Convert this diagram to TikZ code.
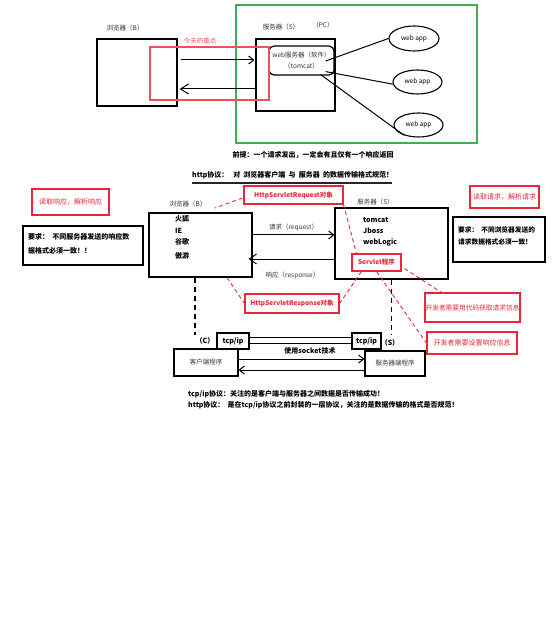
\documentclass[tikz,border=0pt]{standalone}
\usepackage{fontspec}
\setmainfont{Noto Sans CJK SC}
\usetikzlibrary{arrows.meta,shapes.geometric,calc}
\definecolor{myred}{RGB}{232,40,56}
\definecolor{lred}{RGB}{240,80,90}
\definecolor{mygreen}{RGB}{60,175,80}
\begin{document}
\begin{tikzpicture}[x=1pt,y=-1pt,
  sz/.style 2 args={minimum width=#1pt, minimum height=#2pt},
  bx/.style={draw=black, line width=1.2pt, inner sep=0pt},
  rbx/.style={draw=myred, line width=1.1pt, inner sep=0pt, text=myred, font=\fontsize{7}{8}\selectfont},
  gbx/.style={draw=mygreen, line width=1.1pt, inner sep=0pt},
  lbl/.style={inner sep=0pt, font=\fontsize{6.5}{8}\selectfont, text=black!80},
  btxt/.style={inner sep=0pt, font=\fontsize{7}{8}\selectfont\bfseries},
  ell/.style={ellipse, draw=black, line width=1.1pt, inner sep=0pt, font=\fontsize{6.5}{8}\selectfont},
  arr/.style={line width=1pt, -{Straight Barb[length=5pt,width=8pt]}},
  rdash/.style={draw=myred, line width=0.9pt, dash pattern=on 4pt off 3pt},
  kdash/.style={draw=black, line width=1.4pt, dash pattern=on 5pt off 4pt},
]
\useasboundingbox (0,0) rectangle (554,617);
% ---------- top ----------
\node[bx, sz={80}{67}] (b1) at (137,72.5) {};
\node[lbl] (b1l) at (125,28) {浏览器（B）};
\node[gbx, sz={241}{138}] (pc) at (356.5,74) {};
\node[bx, sz={79}{72}] (s1) at (295.5,75) {};
\node[lbl] (s1l) at (281,27) {服务器（S）};
\node[lbl] (pcl) at (323,25) {（PC）};
\node[bx, rounded corners=5pt, sz={65}{29}, align=center, font=\fontsize{6.5}{11}\selectfont, text=black!80] (ws) at (301.5,60.5) {web服务器（软件）\\（tomcat）};
\node[draw=lred, line width=1.1pt, inner sep=0pt, sz={119}{53}] (focus) at (209.5,73.5) {};
\node[inner sep=0pt, text=lred, font=\fontsize{6.5}{8}\selectfont] (focusl) at (200,41) {今天的重点};
\node[ell, sz={50}{25}] (a1) at (414,38.5) {web app};
\node[ell, sz={49}{24}] (a2) at (417.5,82) {web app};
\node[ell, sz={49}{24}] (a3) at (418.5,125) {web app};
\draw[line width=1pt] ($(ws.east)+(-9,0.5)$) -- (a1.west);
\draw[line width=1pt] ($(ws.south east)+(-9,-4)$) -- (a2.185);
\draw[line width=1pt] ($(ws.south east)+(-14,-1)$) -- (a3.215);
\draw[arr] ($(b1.east)+(3,-12.5)$) -- ($(s1.west)+(-1,-15)$);
\draw[line width=1pt, -{Straight Barb[length=8pt,width=10pt]}] ($(s1.west)+(0,14)$) -- ($(b1.east)+(2,16.5)$);
% ---------- middle ----------
\node[btxt] (premise) at (313,155) {前提：一个请求发出，一定会有且仅有一个响应返回};
\node[btxt, anchor=west] (http) at (192,175) {http协议：\ \ \ 对\ \ 浏览器客户端\ \ 与\ \ 服务器\ \ 的数据传输格式规范！};
\draw[line width=1.1pt, black!85] ($(http.west)+(0,8)$) -- ($(http.west)+(200,8)$);

\node[bx, sz={103}{64}] (b2) at (200.5,245) {};
\node[lbl] (b2l) at (188,204) {浏览器（B）};
\node[btxt, anchor=west] (i1) at (175,219) {火狐};
\node[btxt, anchor=west] (i2) at (175,231) {IE};
\node[btxt, anchor=west] (i3) at (175,242) {谷歌};
\node[btxt, anchor=west] (i4) at (175,256) {傲游};

\node[bx, sz={113}{71}] (s2) at (391.5,243.5) {};
\node[lbl] (s2l) at (375.5,202) {服务器（S）};
\node[btxt, anchor=west] (t1) at (363,220) {tomcat};
\node[btxt, anchor=west] (t2) at (363,231) {Jboss};
\node[btxt, anchor=west] (t3) at (363,242) {webLogic};

\draw[arr] ($(b2.east)+(0,-10)$) -- node[lbl, above=4pt] {请求（request）} ($(s2.west)+(0,-8.5)$);
\draw[line width=1pt, -{Straight Barb[length=7pt,width=10pt]}] ($(s2.west)+(2,15.5)$) -- node[lbl, below=12pt] {响应（response）} ($(b2.east)+(-4,14)$);

\node[rbx, sz={99}{18}, font=\fontsize{6.5}{8}\selectfont\bfseries] (req) at (293.5,195) {HttpServletRequest对象};
\node[rbx, sz={94}{19}, font=\fontsize{6.5}{8}\selectfont\bfseries] (resp) at (292,303.5) {HttpServletResponse对象};
\node[rbx, sz={49}{17}, font=\fontsize{6.5}{8}\selectfont\bfseries] (servlet) at (376.5,262.5) {Servlet程序};
\node[rbx, sz={77}{26}] (readresp) at (70.5,202) {读取响应，解析响应};
\node[rbx, sz={69}{22}] (readreq) at (504.5,197) {读取请求，解析请求};
\node[rbx, sz={95}{29}, font=\fontsize{6.7}{8}\selectfont] (getreq) at (472.5,307.5) {开发者需要用代码获取请求信息};
\node[rbx, sz={90}{22}] (setresp) at (472,343) {开发者需要设置响应信息};

\node[bx, sz={120}{39}] (reqL) at (83,245.5) {};
\node[btxt, anchor=west, align=left, font=\fontsize{7}{14}\selectfont\bfseries] (reqLt) at (28,244) {要求：\ \ 不同服务器发送的响应数\\据格式必须一致！！};
\node[bx, sz={92}{45}] (reqR) at (499,239.5) {};
\node[btxt, anchor=west, align=left, font=\fontsize{6.7}{12}\selectfont\bfseries] (reqRt) at (458,236) {要求：\ \ 不同浏览器发送的\\请求数据格式必须一致！};

\coordinate (c1) at (215,208);
\draw[rdash] ($(req.west)+(-1,3)$) -- (c1);
\draw[rdash] (req.south east) -- ($(servlet.north west)+(5,0)$);
\draw[rdash] ($(b2.south)+(26.5,0)$) -- (resp.west);
\draw[rdash] ($(servlet.south west)+(10,0)$) -- (resp.east);
\draw[rdash] (servlet.south) -- (setresp.west);
\draw[rdash] ($(servlet.south east)+(3,-3)$) -- ($(getreq.north west)+(17,0)$);

% ---------- bottom ----------
\draw[kdash] ($(b2.south)+(-5.5,0)$) -- ++(0,57);
\draw[kdash] (s2.south) -- ++(0,55);
\node[bx, sz={64}{27}, lbl] (cli) at (206,362.5) {客户端程序};
\node[bx, sz={60}{25}, lbl] (srvp) at (395,363.5) {服务器端程序};
\node[bx, sz={32}{16}, btxt] (tl) at (233,341) {tcp/ip};
\node[bx, sz={29}{16}, btxt] (tr) at (366.5,341) {tcp/ip};
\node[btxt] (cl) at (205,341) {（C）};
\node[btxt] (sl) at (390,343) {（S）};
\node[btxt] (sock) at (310,351) {使用socket技术};
\draw[line width=1pt] ($(tl.east)+(0,-4)$) -- ($(tr.west)+(0,-4)$);
\draw[line width=1pt] ($(tl.east)+(0,2)$) -- ($(tr.west)+(0,2)$);
\draw[arr] ($(cli.east)+(0,-3.5)$) -- ($(srvp.west)+(0,-4.5)$);
\draw[arr] ($(srvp.west)+(0,6.5)$) -- ($(cli.east)+(0,7.5)$);

\node[btxt, anchor=west] (n1) at (188,394) {tcp/ip协议：关注的是客户端与服务器之间数据是否传输成功！};
\node[btxt, anchor=west] (n2) at (188,405) {http协议：\ \ 是在tcp/ip协议之前封装的一层协议，关注的是数据传输的格式是否规范！};
\end{tikzpicture}
\end{document}
